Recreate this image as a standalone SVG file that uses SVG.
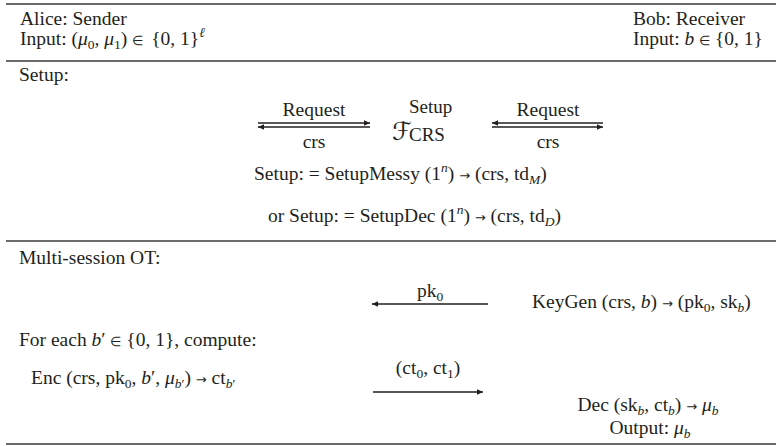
<svg xmlns="http://www.w3.org/2000/svg" width="782" height="446" viewBox="0 0 782 446">
<defs>
<marker id="ah" viewBox="0 0 10 10" refX="10" refY="5" markerWidth="8" markerHeight="6" markerUnits="userSpaceOnUse" orient="auto-start-reverse"><path d="M0,0.5 L10,5 L0,9.5 z" fill="#231f20"/></marker>
</defs>
<style>
text{font-family:"Liberation Serif","Times New Roman",serif;font-size:19.5px;fill:#231f20}
.i{font-style:italic}
.s{font-size:13.5px}
.e{font-size:13px}
.a{font-family:"DejaVu Sans",sans-serif;font-size:13px}
.m{text-anchor:middle}
.rule{stroke:#3a3a3a;stroke-width:1.5}
.arr{stroke:#231f20;stroke-width:1.3;fill:none;marker-end:url(#ah)}
.cal{font-family:"DejaVu Serif","DejaVu Sans",serif;font-style:italic;font-size:25px}
text.sc{font-size:19px}
</style>
<g id="rules">
<line class="rule" x1="6" y1="4" x2="776" y2="4"/>
<line class="rule" x1="6" y1="61" x2="776" y2="61"/>
<line class="rule" x1="6" y1="241" x2="776" y2="241"/>
<line class="rule" x1="6" y1="444" x2="776" y2="444"/>
</g>
<g id="alice">
<text x="20" y="25">Alice: Sender</text>
<text x="20" y="45">Input: (<tspan class="i">μ</tspan><tspan class="s" dy="4">0</tspan><tspan dy="-4">, </tspan><tspan class="i">μ</tspan><tspan class="s" dy="4">1</tspan><tspan dy="-4">) </tspan><tspan class="e">∈</tspan><tspan dx="8">{0, 1}</tspan><tspan class="s i" dy="-8">ℓ</tspan></text>
</g>
<g id="bob">
<text x="633" y="25">Bob: Receiver</text>
<text x="633" y="45">Input: <tspan class="i">b</tspan> <tspan class="e">∈</tspan> {0, 1}</text>
</g>
<g id="setup-label">
<text x="19" y="81">Setup:</text>
</g>
<g id="fcrs">
<text class="cal" x="392" y="140">ℱ</text>
<text class="sc" x="409" y="113">Setup</text>
<text class="sc" x="409" y="141">CRS</text>
</g>
<g id="setup-messy">
<text x="254" y="180">Setup: = SetupMessy (1<tspan class="s i" dy="-8">n</tspan><tspan dy="8">) </tspan><tspan class="a">→</tspan> (crs, td<tspan class="s i" dy="4">M</tspan><tspan dy="-4">)</tspan></text>
</g>
<g id="setup-dec">
<text x="268" y="222">or Setup: = SetupDec (1<tspan class="s i" dy="-8">n</tspan><tspan dy="8">) </tspan><tspan class="a">→</tspan> (crs, td<tspan class="s i" dy="4">D</tspan><tspan dy="-4">)</tspan></text>
</g>
<g id="ot-label">
<text x="19" y="264">Multi-session OT:</text>
</g>
<g id="keygen">
<text x="532" y="308">KeyGen (crs, <tspan class="i">b</tspan>) <tspan class="a">→</tspan> (pk<tspan class="s" dy="4">0</tspan><tspan dy="-4">, sk</tspan><tspan class="s i" dy="4">b</tspan><tspan dy="-4">)</tspan></text>
</g>
<g id="foreach">
<text x="19" y="346">For each <tspan class="i">b</tspan>′ <tspan class="e">∈</tspan> {0, 1}, compute:</text>
</g>
<g id="enc">
<text x="31" y="384">Enc (crs, pk<tspan class="s" dy="4">0</tspan><tspan dy="-4">, </tspan><tspan class="i">b</tspan>′, <tspan class="i">μ</tspan><tspan class="s i" dy="4">b</tspan><tspan class="s">′</tspan><tspan dy="-4">) </tspan><tspan class="a">→</tspan> ct<tspan class="s i" dy="4">b</tspan><tspan class="s">′</tspan></text>
</g>
<g id="dec">
<text class="m" x="648" y="411">Dec (sk<tspan class="s i" dy="4">b</tspan><tspan dy="-4">, ct</tspan><tspan class="s i" dy="4">b</tspan><tspan dy="-4">) </tspan><tspan class="a">→</tspan> <tspan class="i">μ</tspan><tspan class="s i" dy="4">b</tspan></text>
<text class="m" x="650" y="434">Output: <tspan class="i">μ</tspan><tspan class="s i" dy="4">b</tspan></text>
</g>
<g id="connectors">
<path class="arr" d="M258,123 H370"/>
<path class="arr" d="M370,127 H258"/>
<path class="arr" d="M603,123 H492"/>
<path class="arr" d="M492,127 H603"/>
<path class="arr" d="M488,304 H372"/>
<path class="arr" d="M373,392 H483"/>
</g>
<g id="connector-labels">
<text class="m" x="314" y="116">Request</text>
<text class="m" x="314" y="148">crs</text>
<text class="m" x="548" y="116">Request</text>
<text class="m" x="548" y="148">crs</text>
<text class="m" x="430" y="297">pk<tspan class="s" dy="4">0</tspan></text>
<text class="m" x="428" y="374">(ct<tspan class="s" dy="4">0</tspan><tspan dy="-4">, ct</tspan><tspan class="s" dy="4">1</tspan><tspan dy="-4">)</tspan></text>
</g>
</svg>
